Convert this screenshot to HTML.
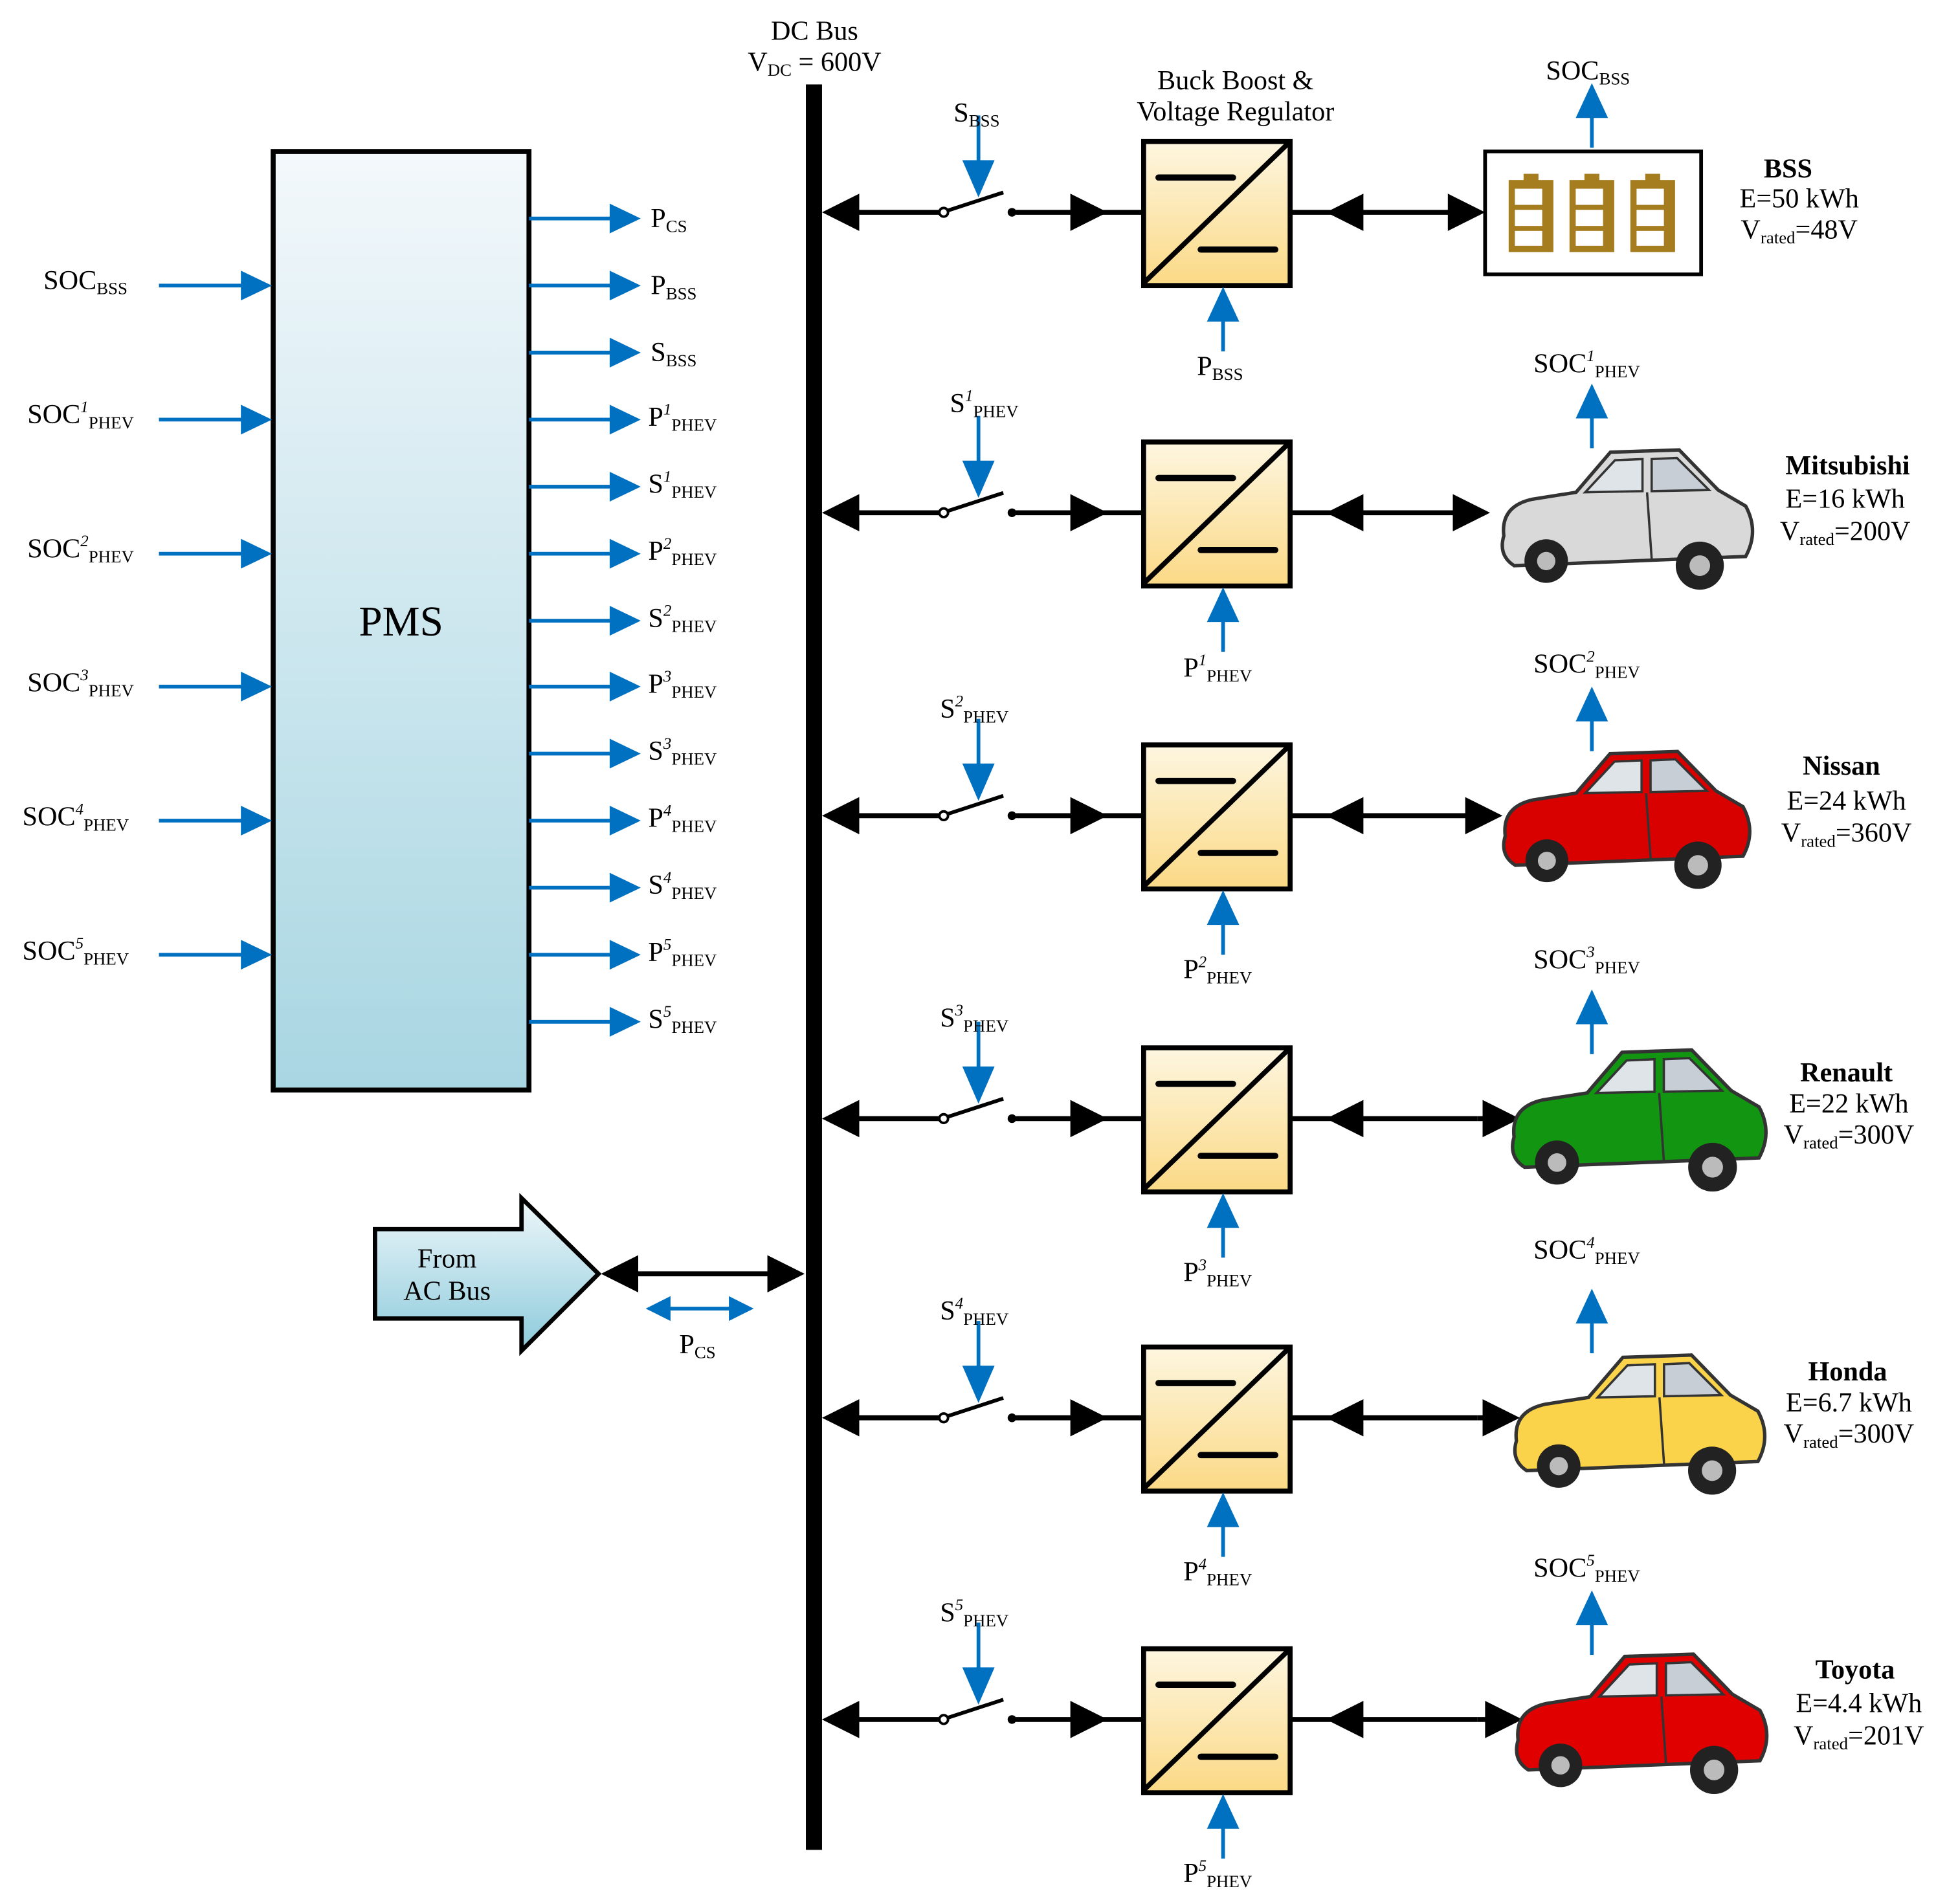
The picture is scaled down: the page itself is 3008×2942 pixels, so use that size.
<!DOCTYPE html>
<html><head><meta charset="utf-8"><style>
html,body{margin:0;padding:0;background:#fff;}
svg{display:block;}
text{font-family:"Liberation Serif",serif;fill:#000;}
</style></head><body>
<svg width="3008" height="2942" viewBox="0 0 1568 1533.6" xmlns="http://www.w3.org/2000/svg">
<defs>
<linearGradient id="pms" x1="0" y1="0" x2="0" y2="1"><stop offset="0" stop-color="#f3f8fb"/><stop offset="1" stop-color="#a8d6e2"/></linearGradient>
<linearGradient id="conv" x1="0" y1="0" x2="0" y2="1"><stop offset="0" stop-color="#fdf6e0"/><stop offset="1" stop-color="#fbd985"/></linearGradient>
<linearGradient id="ac" x1="0" y1="0" x2="0" y2="1"><stop offset="0" stop-color="#eef7fa"/><stop offset="1" stop-color="#8ccadb"/></linearGradient>
<g id="row">
<line x1="670" y1="0" x2="760" y2="0" stroke="#000" stroke-width="4"/>
<polygon points="662,0 692,-15 692,15" fill="#000"/>
<line x1="762" y1="-1" x2="808" y2="-16" stroke="#000" stroke-width="3"/>
<circle cx="760" cy="0" r="3.5" fill="#fff" stroke="#000" stroke-width="2"/>
<circle cx="815" cy="0" r="3.5" fill="#000"/>
<line x1="818" y1="0" x2="921" y2="0" stroke="#000" stroke-width="4"/>
<polygon points="892,0 862,-15 862,15" fill="#000"/>
<rect x="921" y="-57" width="118" height="116" fill="url(#conv)" stroke="#000" stroke-width="4"/>
<line x1="921" y1="57" x2="1039" y2="-57" stroke="#000" stroke-width="4"/>
<line x1="933" y1="-28" x2="993" y2="-28" stroke="#000" stroke-width="5" stroke-linecap="round"/>
<line x1="967" y1="30" x2="1027" y2="30" stroke="#000" stroke-width="5" stroke-linecap="round"/>
<line x1="1040" y1="0" x2="1190" y2="0" stroke="#000" stroke-width="4"/>
<polygon points="1068,0 1098,-15 1098,15" fill="#000"/>
<line x1="788" y1="-78" x2="788" y2="-40" stroke="#0070c0" stroke-width="3"/>
<polygon points="788,-12 775,-42 801,-42" fill="#0070c0"/>
<line x1="985" y1="112" x2="985" y2="86" stroke="#0070c0" stroke-width="3"/>
<polygon points="985,60 972,88 998,88" fill="#0070c0"/>
<line x1="1282" y1="-52" x2="1282" y2="-78" stroke="#0070c0" stroke-width="3"/>
<polygon points="1282,-104 1269,-76 1295,-76" fill="#0070c0"/>
</g>
<symbol id="car" viewBox="-115 -65 230 130" overflow="visible">
<path d="M-105,18 Q-108,-8 -80,-14 L-42,-20 L-12,-55 L48,-57 L82,-22 L106,-8 Q118,14 106,36 L-96,44 Q-110,35 -105,18 Z" fill="currentColor" stroke="#333" stroke-width="3"/>
<polygon points="-34,-20 -8,-48 16,-49 16,-21" fill="#dfe4e8" stroke="#333" stroke-width="2"/>
<polygon points="24,-49 46,-50 74,-22 24,-21" fill="#c7ced6" stroke="#333" stroke-width="2"/>
<line x1="20" y1="-20" x2="24" y2="38" stroke="#333" stroke-width="2"/>
<circle cx="-68" cy="40" r="19" fill="#222"/><circle cx="-68" cy="40" r="8" fill="#bbb"/>
<circle cx="66" cy="44" r="21" fill="#222"/><circle cx="66" cy="44" r="9" fill="#bbb"/>
</symbol>
</defs>

<!-- PMS -->
<rect x="220" y="122" width="206" height="756" fill="url(#pms)" stroke="#000" stroke-width="4"/>
<text x="323" y="512" font-size="34" text-anchor="middle">PMS</text>

<!-- inputs -->
<g stroke="#0070c0" stroke-width="3" fill="#0070c0">
<line x1="128" y1="230" x2="200" y2="230"/><polygon points="219,230 194,218 194,242" stroke="none"/>
<line x1="128" y1="338" x2="200" y2="338"/><polygon points="219,338 194,326 194,350" stroke="none"/>
<line x1="128" y1="446" x2="200" y2="446"/><polygon points="219,446 194,434 194,458" stroke="none"/>
<line x1="128" y1="553" x2="200" y2="553"/><polygon points="219,553 194,541 194,565" stroke="none"/>
<line x1="128" y1="661" x2="200" y2="661"/><polygon points="219,661 194,649 194,673" stroke="none"/>
<line x1="128" y1="769" x2="200" y2="769"/><polygon points="219,769 194,757 194,781" stroke="none"/>
</g>
<g font-size="22">
<text x="35" y="233">SOC<tspan font-size="14" dy="4">BSS</tspan></text>
<text x="22" y="341">SOC<tspan font-size="13" font-style="italic" dy="-9">1</tspan><tspan font-size="14" dy="13">PHEV</tspan></text>
<text x="22" y="449">SOC<tspan font-size="13" font-style="italic" dy="-9">2</tspan><tspan font-size="14" dy="13">PHEV</tspan></text>
<text x="22" y="557">SOC<tspan font-size="13" font-style="italic" dy="-9">3</tspan><tspan font-size="14" dy="13">PHEV</tspan></text>
<text x="18" y="665">SOC<tspan font-size="13" font-style="italic" dy="-9">4</tspan><tspan font-size="14" dy="13">PHEV</tspan></text>
<text x="18" y="773">SOC<tspan font-size="13" font-style="italic" dy="-9">5</tspan><tspan font-size="14" dy="13">PHEV</tspan></text>
</g>

<!-- outputs -->
<g stroke="#0070c0" stroke-width="3" fill="#0070c0">
<line x1="426" y1="176" x2="495" y2="176"/><polygon points="516,176 491,164 491,188" stroke="none"/>
<line x1="426" y1="230" x2="495" y2="230"/><polygon points="516,230 491,218 491,242" stroke="none"/>
<line x1="426" y1="284" x2="495" y2="284"/><polygon points="516,284 491,272 491,296" stroke="none"/>
<line x1="426" y1="338" x2="495" y2="338"/><polygon points="516,338 491,326 491,350" stroke="none"/>
<line x1="426" y1="392" x2="495" y2="392"/><polygon points="516,392 491,380 491,404" stroke="none"/>
<line x1="426" y1="446" x2="495" y2="446"/><polygon points="516,446 491,434 491,458" stroke="none"/>
<line x1="426" y1="500" x2="495" y2="500"/><polygon points="516,500 491,488 491,512" stroke="none"/>
<line x1="426" y1="553" x2="495" y2="553"/><polygon points="516,553 491,541 491,565" stroke="none"/>
<line x1="426" y1="607" x2="495" y2="607"/><polygon points="516,607 491,595 491,619" stroke="none"/>
<line x1="426" y1="661" x2="495" y2="661"/><polygon points="516,661 491,649 491,673" stroke="none"/>
<line x1="426" y1="715" x2="495" y2="715"/><polygon points="516,715 491,703 491,727" stroke="none"/>
<line x1="426" y1="769" x2="495" y2="769"/><polygon points="516,769 491,757 491,781" stroke="none"/>
<line x1="426" y1="823" x2="495" y2="823"/><polygon points="516,823 491,811 491,835" stroke="none"/>
</g>
<g font-size="22">
<text x="524" y="183">P<tspan font-size="14" dy="4">CS</tspan></text>
<text x="524" y="237">P<tspan font-size="14" dy="4">BSS</tspan></text>
<text x="524" y="291">S<tspan font-size="14" dy="4">BSS</tspan></text>
<text x="522" y="343">P<tspan font-size="13" font-style="italic" dy="-9">1</tspan><tspan font-size="14" dy="13">PHEV</tspan></text>
<text x="522" y="397">S<tspan font-size="13" font-style="italic" dy="-9">1</tspan><tspan font-size="14" dy="13">PHEV</tspan></text>
<text x="522" y="451">P<tspan font-size="13" font-style="italic" dy="-9">2</tspan><tspan font-size="14" dy="13">PHEV</tspan></text>
<text x="522" y="505">S<tspan font-size="13" font-style="italic" dy="-9">2</tspan><tspan font-size="14" dy="13">PHEV</tspan></text>
<text x="522" y="558">P<tspan font-size="13" font-style="italic" dy="-9">3</tspan><tspan font-size="14" dy="13">PHEV</tspan></text>
<text x="522" y="612">S<tspan font-size="13" font-style="italic" dy="-9">3</tspan><tspan font-size="14" dy="13">PHEV</tspan></text>
<text x="522" y="666">P<tspan font-size="13" font-style="italic" dy="-9">4</tspan><tspan font-size="14" dy="13">PHEV</tspan></text>
<text x="522" y="720">S<tspan font-size="13" font-style="italic" dy="-9">4</tspan><tspan font-size="14" dy="13">PHEV</tspan></text>
<text x="522" y="774">P<tspan font-size="13" font-style="italic" dy="-9">5</tspan><tspan font-size="14" dy="13">PHEV</tspan></text>
<text x="522" y="828">S<tspan font-size="13" font-style="italic" dy="-9">5</tspan><tspan font-size="14" dy="13">PHEV</tspan></text>
</g>

<!-- DC bus -->
<rect x="649" y="68" width="13" height="1422" fill="#000"/>
<text x="656" y="32" font-size="22" text-anchor="middle">DC Bus</text>
<text x="656" y="57" font-size="22" text-anchor="middle">V<tspan font-size="14" dy="4">DC</tspan><tspan dy="-4"> = 600V</tspan></text>
<text x="995" y="72" font-size="22" text-anchor="middle">Buck Boost &amp;</text>
<text x="995" y="97" font-size="22" text-anchor="middle">Voltage Regulator</text>

<!-- rows -->
<use href="#row" transform="translate(0,171)"/>
<use href="#row" transform="translate(0,413)"/>
<use href="#row" transform="translate(0,657)"/>
<use href="#row" transform="translate(0,901)"/>
<use href="#row" transform="translate(0,1142)"/>
<use href="#row" transform="translate(0,1385)"/>
<g fill="#000">
<polygon points="1196,171 1166,156 1166,186"/>
<polygon points="1200,413 1170,398 1170,428"/>
<polygon points="1210,657 1180,642 1180,672"/>
<polygon points="1224,901 1194,886 1194,916"/>
<polygon points="1224,1142 1194,1127 1194,1157"/>
<polygon points="1226,1385 1196,1370 1196,1400"/>
</g>
<g stroke="#000" stroke-width="4">
<line x1="1190" y1="657" x2="1200" y2="657"/><line x1="1190" y1="901" x2="1210" y2="901"/>
<line x1="1190" y1="1142" x2="1210" y2="1142"/><line x1="1190" y1="1385" x2="1210" y2="1385"/>
</g>

<!-- switch labels -->
<g font-size="22">
<text x="768" y="98">S<tspan font-size="14" dy="4">BSS</tspan></text>
<text x="765" y="332">S<tspan font-size="13" font-style="italic" dy="-9">1</tspan><tspan font-size="14" dy="13">PHEV</tspan></text>
<text x="757" y="578">S<tspan font-size="13" font-style="italic" dy="-9">2</tspan><tspan font-size="14" dy="13">PHEV</tspan></text>
<text x="757" y="827">S<tspan font-size="13" font-style="italic" dy="-9">3</tspan><tspan font-size="14" dy="13">PHEV</tspan></text>
<text x="757" y="1063">S<tspan font-size="13" font-style="italic" dy="-9">4</tspan><tspan font-size="14" dy="13">PHEV</tspan></text>
<text x="757" y="1306">S<tspan font-size="13" font-style="italic" dy="-9">5</tspan><tspan font-size="14" dy="13">PHEV</tspan></text>

<text x="964" y="302">P<tspan font-size="14" dy="4">BSS</tspan></text>
<text x="953" y="545">P<tspan font-size="13" font-style="italic" dy="-9">1</tspan><tspan font-size="14" dy="13">PHEV</tspan></text>
<text x="953" y="788">P<tspan font-size="13" font-style="italic" dy="-9">2</tspan><tspan font-size="14" dy="13">PHEV</tspan></text>
<text x="953" y="1032">P<tspan font-size="13" font-style="italic" dy="-9">3</tspan><tspan font-size="14" dy="13">PHEV</tspan></text>
<text x="953" y="1273">P<tspan font-size="13" font-style="italic" dy="-9">4</tspan><tspan font-size="14" dy="13">PHEV</tspan></text>
<text x="953" y="1516">P<tspan font-size="13" font-style="italic" dy="-9">5</tspan><tspan font-size="14" dy="13">PHEV</tspan></text>

<text x="1245" y="64">SOC<tspan font-size="14" dy="4">BSS</tspan></text>
<text x="1235" y="300">SOC<tspan font-size="13" font-style="italic" dy="-9">1</tspan><tspan font-size="14" dy="13">PHEV</tspan></text>
<text x="1235" y="542">SOC<tspan font-size="13" font-style="italic" dy="-9">2</tspan><tspan font-size="14" dy="13">PHEV</tspan></text>
<text x="1235" y="780">SOC<tspan font-size="13" font-style="italic" dy="-9">3</tspan><tspan font-size="14" dy="13">PHEV</tspan></text>
<text x="1235" y="1014">SOC<tspan font-size="13" font-style="italic" dy="-9">4</tspan><tspan font-size="14" dy="13">PHEV</tspan></text>
<text x="1235" y="1270">SOC<tspan font-size="13" font-style="italic" dy="-9">5</tspan><tspan font-size="14" dy="13">PHEV</tspan></text>
</g>

<!-- BSS box -->
<rect x="1196" y="122" width="174" height="99" fill="#fff" stroke="#000" stroke-width="3"/>
<g fill="#a57c1e">
<rect x="1215" y="145" width="36" height="58"/><rect x="1227" y="140" width="12" height="6"/>
<rect x="1264" y="145" width="36" height="58"/><rect x="1276" y="140" width="12" height="6"/>
<rect x="1313" y="145" width="36" height="58"/><rect x="1325" y="140" width="12" height="6"/>
</g>
<g fill="#fff">
<rect x="1220" y="152" width="22" height="13"/><rect x="1220" y="169" width="22" height="13"/><rect x="1220" y="186" width="22" height="12"/>
<rect x="1269" y="152" width="22" height="13"/><rect x="1269" y="169" width="22" height="13"/><rect x="1269" y="186" width="22" height="12"/>
<rect x="1318" y="152" width="22" height="13"/><rect x="1318" y="169" width="22" height="13"/><rect x="1318" y="186" width="22" height="12"/>
</g>

<!-- cars -->
<use href="#car" x="1198" y="355" width="220" height="120" color="#d9d9d9"/>
<use href="#car" x="1200" y="598" width="215" height="118" color="#d90000"/>
<use href="#car" x="1210" y="838" width="215" height="122" color="#129612"/>
<use href="#car" x="1212" y="1075" width="212" height="138" color="#fbd34a"/>
<use href="#car" x="1212" y="1325" width="215" height="120" color="#e00000"/>

<!-- device labels -->
<g font-size="22" text-anchor="middle">
<text x="1440" y="143" font-weight="bold">BSS</text>
<text x="1449" y="167">E=50 kWh</text>
<text x="1449" y="192">V<tspan font-size="14" dy="4">rated</tspan><tspan dy="-4">=48V</tspan></text>
<text x="1488" y="382" font-weight="bold">Mitsubishi</text>
<text x="1486" y="409">E=16 kWh</text>
<text x="1486" y="435">V<tspan font-size="14" dy="4">rated</tspan><tspan dy="-4">=200V</tspan></text>
<text x="1483" y="624" font-weight="bold">Nissan</text>
<text x="1487" y="652">E=24 kWh</text>
<text x="1487" y="678">V<tspan font-size="14" dy="4">rated</tspan><tspan dy="-4">=360V</tspan></text>
<text x="1487" y="871" font-weight="bold">Renault</text>
<text x="1489" y="896">E=22 kWh</text>
<text x="1489" y="921">V<tspan font-size="14" dy="4">rated</tspan><tspan dy="-4">=300V</tspan></text>
<text x="1488" y="1112" font-weight="bold">Honda</text>
<text x="1489" y="1137">E=6.7 kWh</text>
<text x="1489" y="1162">V<tspan font-size="14" dy="4">rated</tspan><tspan dy="-4">=300V</tspan></text>
<text x="1494" y="1352" font-weight="bold">Toyota</text>
<text x="1497" y="1379">E=4.4 kWh</text>
<text x="1497" y="1405">V<tspan font-size="14" dy="4">rated</tspan><tspan dy="-4">=201V</tspan></text>
</g>

<!-- AC bus -->
<polygon points="302,990 420,990 420,965 482,1026 420,1088 420,1062 302,1062" fill="url(#ac)" stroke="#000" stroke-width="3.5"/>
<text x="360" y="1021" font-size="22" text-anchor="middle">From</text>
<text x="360" y="1047" font-size="22" text-anchor="middle">AC Bus</text>
<line x1="505" y1="1026" x2="625" y2="1026" stroke="#000" stroke-width="4"/>
<polygon points="484,1026 514,1011 514,1041" fill="#000"/>
<polygon points="648,1026 618,1011 618,1041" fill="#000"/>
<line x1="535" y1="1054" x2="592" y2="1054" stroke="#0070c0" stroke-width="3"/>
<polygon points="520,1054 540,1044 540,1064" fill="#0070c0"/>
<polygon points="607,1054 587,1044 587,1064" fill="#0070c0"/>
<text x="547" y="1090" font-size="22">P<tspan font-size="14" dy="4">CS</tspan></text>
</svg>
</body></html>
